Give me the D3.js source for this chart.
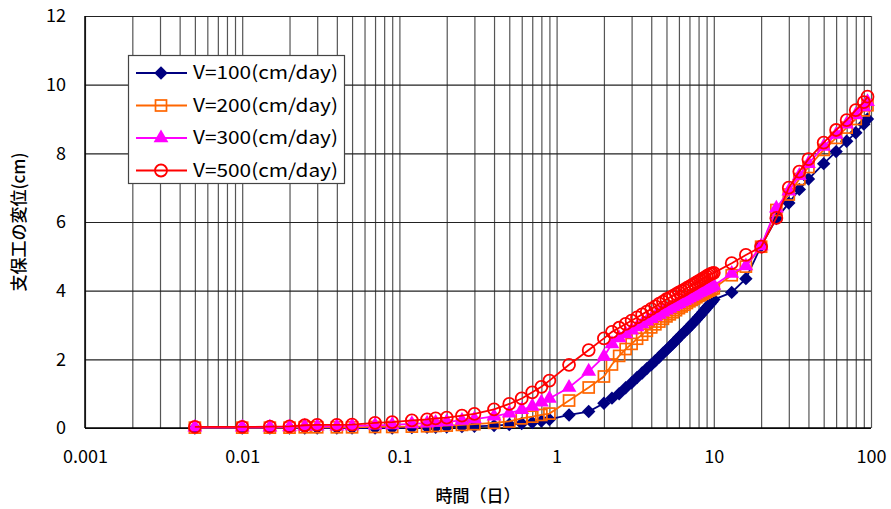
<!DOCTYPE html>
<html>
<head>
<meta charset="utf-8">
<script src="https://cdn.jsdelivr.net/npm/d3@7"></script>
<style>
	body { margin: 0; background: #fff; }
	svg text { font-family: 'Noto Sans CJK JP', 'Noto Sans', sans-serif; fill: #000; }
</style>
</head>
<body>
<div id="chart"></div>
<script>
// time points (days)
const times = [
	0.005, 0.01, 0.015, 0.02, 0.025, 0.03, 0.04, 0.05, 0.07, 0.09,
	0.12, 0.15, 0.17, 0.2, 0.25, 0.3, 0.4, 0.5, 0.6, 0.7, 0.8, 0.9, 1.2, 1.6, 2.0,
	2.25, 2.5, 2.75, 3, 3.25, 3.5, 3.75, 4, 4.25, 4.5, 4.75, 5, 5.25, 5.5, 5.75, 6,
	6.25, 6.5, 6.75, 7, 7.25, 7.5, 7.75, 8, 8.25, 8.5, 8.75, 9, 9.25, 9.5, 9.75, 10,
	13, 16, 20, 25, 30, 35, 40, 50, 60, 70, 80, 90, 95
]

const v100 = [
	0, 0, 0, 0, 0, 0, 0, 0, 0, 0,
	0.01, 0.02, 0.02, 0.03, 0.04, 0.05, 0.07, 0.1, 0.13, 0.16, 0.2, 0.25, 0.38, 0.48, 0.72,
	0.87, 1.0, 1.17, 1.32, 1.47, 1.6, 1.73, 1.84, 1.96, 2.07, 2.18, 2.27, 2.37, 2.46, 2.55, 2.64,
	2.72, 2.8, 2.87, 2.95, 3.02, 3.09, 3.16, 3.23, 3.3, 3.37, 3.43, 3.5, 3.56, 3.62, 3.68, 3.74,
	3.95, 4.35, 5.3, 6.1, 6.55, 6.95, 7.25, 7.7, 8.05, 8.35, 8.6, 8.85, 9.0
]

const v200 = [
	0.01, 0.01, 0.01, 0.01, 0.02, 0.02, 0.02, 0.02, 0.03, 0.03,
	0.04, 0.05, 0.06, 0.07, 0.09, 0.11, 0.15, 0.19, 0.28, 0.33, 0.38, 0.42, 0.8, 1.18, 1.5,
	1.85, 2.1, 2.3, 2.45, 2.6, 2.72, 2.83, 2.93, 3.02, 3.1, 3.18, 3.25, 3.31, 3.37, 3.43, 3.49,
	3.54, 3.59, 3.64, 3.69, 3.73, 3.77, 3.81, 3.85, 3.88, 3.91, 3.94, 3.97, 4.0, 4.02, 4.05, 4.07,
	4.45, 4.7, 5.28, 6.35, 6.8, 7.25, 7.6, 8.1, 8.45, 8.75, 9.0, 9.25, 9.4
]

const v300 = [
	0.02, 0.02, 0.02, 0.03, 0.05, 0.05, 0.05, 0.06, 0.08, 0.09,
	0.12, 0.14, 0.16, 0.18, 0.22, 0.26, 0.34, 0.43, 0.53, 0.63, 0.75, 0.86, 1.18, 1.65, 2.08,
	2.45, 2.62, 2.74, 2.85, 2.94, 3.03, 3.11, 3.18, 3.25, 3.31, 3.37, 3.43, 3.48, 3.53, 3.58, 3.62,
	3.67, 3.71, 3.75, 3.79, 3.83, 3.86, 3.9, 3.93, 3.96, 3.99, 4.02, 4.05, 4.08, 4.1, 4.13, 4.15,
	4.5, 4.72, 5.3, 6.4, 6.9, 7.35, 7.7, 8.2, 8.55, 8.85, 9.12, 9.35, 9.5
]

const v500 = [
	0.03, 0.03, 0.04, 0.05, 0.08, 0.09, 0.09, 0.1, 0.15, 0.17,
	0.22, 0.25, 0.28, 0.3, 0.36, 0.41, 0.54, 0.7, 0.86, 1.04, 1.2, 1.38, 1.84, 2.27, 2.61,
	2.8, 2.92, 3.03, 3.13, 3.22, 3.31, 3.39, 3.47, 3.54, 3.62, 3.68, 3.75, 3.8, 3.85, 3.9, 3.95,
	3.99, 4.03, 4.08, 4.12, 4.16, 4.2, 4.24, 4.28, 4.31, 4.35, 4.38, 4.42, 4.45, 4.48, 4.5, 4.52,
	4.8, 5.04, 5.28, 6.12, 7.0, 7.47, 7.83, 8.31, 8.68, 8.97, 9.26, 9.49, 9.65
]

const series_names = ['V=100(cm/day)', 'V=200(cm/day)', 'V=300(cm/day)', 'V=500(cm/day)']
const series_values = [v100, v200, v300, v500]
const series_colors = ['#000080', '#FF6600', '#FF00FF', '#FF0000']
const series_marks = ['diamond', 'square', 'triangle', 'circle']

const x_ticks = [0.001, 0.01, 0.1, 1, 10, 100]
const y_ticks = [0, 2, 4, 6, 8, 10, 12]

const WIDTH = 891
const HEIGHT = 509
const margin = { left: 85, right: 20, top: 16, bottom: 81 }

const svg = d3.select('#chart').append('svg')
	.attr('width', WIDTH)
	.attr('height', HEIGHT)

const x = d3.scaleLog().domain([0.001, 100]).range([margin.left, WIDTH - margin.right])
const y = d3.scaleLinear().domain([0, 12]).range([HEIGHT - margin.bottom, margin.top])

// minor log grid: 1..9 in every decade
const minor = []
for (let d = -3; d < 2; d++) {
	for (let k = 1; k <= 9; k++) minor.push(k * Math.pow(10, d))
}
minor.push(100)

const grid = svg.append('g')
grid.append('g')
	.attr('transform', `translate(0,${y(0)})`)
	.call(d3.axisBottom(x).tickValues(minor).tickSize(-(y(0) - y(12))).tickFormat(''))
	.call(g => g.select('.domain').remove())
	.call(g => g.selectAll('line').attr('stroke', '#555').attr('stroke-width', 1.2))

grid.append('g')
	.attr('transform', `translate(${x(0.001)},0)`)
	.call(d3.axisLeft(y).tickValues(y_ticks).tickSize(-(x(100) - x(0.001))).tickFormat(''))
	.call(g => g.select('.domain').remove())
	.call(g => g.selectAll('line').attr('stroke', '#222').attr('stroke-width', 1.2))

// axis lines
svg.append('line')
	.attr('x1', x(0.001)).attr('x2', x(0.001))
	.attr('y1', y(0)).attr('y2', y(12))
	.attr('stroke', '#000').attr('stroke-width', 1.5)
svg.append('line')
	.attr('x1', x(0.001)).attr('x2', x(100))
	.attr('y1', y(0)).attr('y2', y(0))
	.attr('stroke', '#000').attr('stroke-width', 1.5)

// tick labels
svg.append('g')
	.attr('transform', `translate(0,${y(0)})`)
	.call(d3.axisBottom(x).tickValues(x_ticks).tickSize(0).tickPadding(22).tickFormat(d => String(d)))
	.call(g => g.select('.domain').remove())
	.call(g => g.selectAll('text').style('font-size', '18px'))

svg.append('g')
	.attr('transform', `translate(${x(0.001)},0)`)
	.call(d3.axisLeft(y).tickValues(y_ticks).tickSize(0).tickPadding(19).tickFormat(d => String(d)))
	.call(g => g.select('.domain').remove())
	.call(g => g.selectAll('text').style('font-size', '18px'))

// titles
svg.append('text')
	.attr('x', (x(0.001) + x(100)) / 2)
	.attr('y', 502)
	.attr('text-anchor', 'middle')
	.style('font-size', '17px')
	.style('font-weight', 500)
	.text('時間（日）')

svg.append('text')
	.attr('transform', `translate(25,${(y(0) + y(12)) / 2}) rotate(-90)`)
	.attr('text-anchor', 'middle')
	.style('font-size', '17px')
	.style('font-weight', 500)
	.text('支保工の変位(cm)')

const line = d3.line()
	.x(d => x(d[0]))
	.y(d => y(d[1]))

function drawMark(g, kind, color, cx, cy) {
	if (kind === 'diamond') {
		g.append('path')
			.attr('d', d3.symbol(d3.symbolDiamond2, 115)())
			.attr('transform', `translate(${cx},${cy})`)
			.attr('fill', color)
	} else if (kind === 'square') {
		g.append('rect')
			.attr('x', cx - 5.5).attr('y', cy - 5.5)
			.attr('width', 11).attr('height', 11)
			.attr('fill', 'none').attr('stroke', color).attr('stroke-width', 1.7)
	} else if (kind === 'triangle') {
		g.append('path')
			.attr('d', d3.symbol(d3.symbolTriangle, 95)())
			.attr('transform', `translate(${cx},${cy})`)
			.attr('fill', color)
	} else {
		g.append('circle')
			.attr('cx', cx).attr('cy', cy).attr('r', 6)
			.attr('fill', 'none').attr('stroke', color).attr('stroke-width', 1.8)
	}
}

series_values.forEach((vals, i) => {
	const pts = times.map((t, j) => [t, vals[j]])
	const g = svg.append('g')
	g.append('path')
		.datum(pts)
		.attr('d', line)
		.attr('fill', 'none')
		.attr('stroke', series_colors[i])
		.attr('stroke-width', 1.8)
	pts.forEach(p => drawMark(g, series_marks[i], series_colors[i], x(p[0]), y(p[1])))
})

// legend
const legend = svg.append('g')
legend.append('rect')
	.attr('x', 128.5).attr('y', 55.5)
	.attr('width', 216).attr('height', 128)
	.attr('fill', '#fff')
	.attr('stroke', '#444')
	.attr('stroke-width', 1.2)

series_names.forEach((name, i) => {
	const ly = 73 + i * 32.5
	legend.append('line')
		.attr('x1', 136).attr('x2', 187)
		.attr('y1', ly).attr('y2', ly)
		.attr('stroke', series_colors[i]).attr('stroke-width', 1.8)
	drawMark(legend, series_marks[i], series_colors[i], 161, ly)
	legend.append('text')
		.attr('x', 193)
		.attr('y', ly + 6)
		.attr('textLength', 145)
		.attr('lengthAdjust', 'spacingAndGlyphs')
		.style('font-size', '18px')
		.text(name)
})
</script>
</body>
</html>
